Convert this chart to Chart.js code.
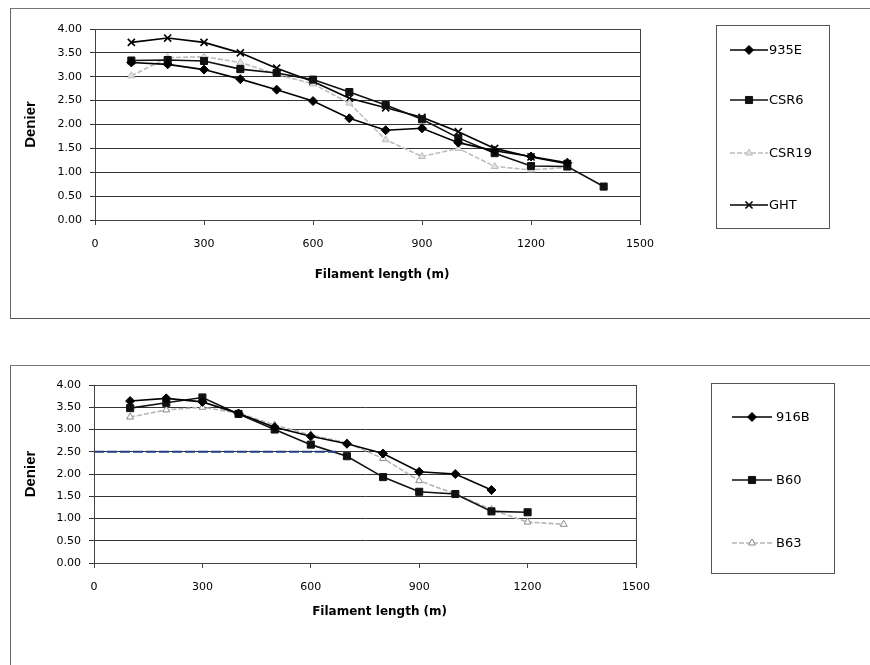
<!DOCTYPE html>
<html>
<head>
<meta charset="utf-8">
<script src="https://cdn.jsdelivr.net/npm/chart.js@4.4.1/dist/chart.umd.min.js"></script>
<style>
  html, body { margin: 0; padding: 0; background: #fff; width: 870px; height: 665px; overflow: hidden; }
  .box { position: absolute; left: 10px; width: 870px; border-left: 1px solid #666; border-top: 1px solid #777; }
  #boxTop { top: 8px; height: 309px; border-bottom: 1px solid #555; }
  #boxBottom { top: 365px; height: 300px; }
  .box canvas { position: absolute; left: 0; top: 0; }
</style>
</head>
<body>
<div class="box" id="boxTop"><canvas id="chartTop" width="859" height="309"></canvas></div>
<div class="box" id="boxBottom"><canvas id="chartBottom" width="859" height="299"></canvas></div>
<script>
// --- datos ---
const lengthsTop = [100, 200, 300, 400, 500, 600, 700, 800, 900, 1000, 1100, 1200, 1300, 1400];
const d935E = [3.30, 3.26, 3.15, 2.95, 2.73, 2.49, 2.13, 1.88, 1.92, 1.62, 1.45, 1.33, 1.20, null];
const dCSR6 = [3.34, 3.35, 3.33, 3.16, 3.08, 2.94, 2.68, 2.41, 2.11, 1.72, 1.40, 1.13, 1.12, 0.70];
const dCSR19 = [3.02, 3.40, 3.42, 3.30, 3.05, 2.85, 2.45, 1.68, 1.33, 1.50, 1.12, 1.05, 1.10, null];
const dGHT = [3.72, 3.81, 3.72, 3.50, 3.18, 2.90, 2.55, 2.35, 2.15, 1.85, 1.50, 1.32, 1.18, null];

const lengthsBottom = [100, 200, 300, 400, 500, 600, 700, 800, 900, 1000, 1100, 1200, 1300];
const d916B = [3.64, 3.70, 3.62, 3.36, 3.05, 2.85, 2.68, 2.46, 2.05, 2.00, 1.64, null, null];
const dB60 = [3.48, 3.60, 3.72, 3.35, 3.00, 2.66, 2.40, 1.93, 1.60, 1.55, 1.16, 1.14, null];
const dB63 = [3.28, 3.44, 3.50, 3.37, 3.10, 2.88, 2.70, 2.35, 1.85, 1.55, 1.20, 0.92, 0.87];
// linea azul marcada a mano en 2.50
const markX = [0, 670];
const markY = [2.5, 2.5];

const xMax = 1500, xStep = 300;
const yMax = 4, yStep = 0.5;

const WIDE = "'DejaVu Sans', Verdana, sans-serif";
const ARIAL = "'Liberation Sans', Arial, sans-serif";

function points(xs, ys) {
    return xs.map((x, i) => ({ x, y: ys[i] })).filter(p => p.y !== null && p.y !== undefined);
}

function series(label, xs, ys, color, style, extra) {
    return Object.assign({
        label,
        data: points(xs, ys),
        borderColor: color,
        backgroundColor: color,
        borderWidth: 1.6,
        pointStyle: style,
        pointRadius: 4,
        pointBorderColor: color,
        pointBackgroundColor: color,
        pointBorderWidth: 1,
        tension: 0,
    }, extra || {});
}

// --- plugin: marco del area de trazado ---
const plotFrame = {
    id: "plotFrame",
    afterDraw(chart) {
        const { ctx, chartArea: a } = chart;
        ctx.save();
        ctx.strokeStyle = "#444";
        ctx.lineWidth = 1;
        ctx.strokeRect(Math.round(a.left) + 0.5, Math.round(a.top) + 0.5, Math.round(a.right - a.left), Math.round(a.bottom - a.top));
        ctx.restore();
    },
};

// --- plugin: leyenda estilo Excel dentro de un recuadro ---
const boxLegend = {
    id: "boxLegend",
    afterDraw(chart, args, opts) {
        const { ctx } = chart;
        ctx.save();
        ctx.strokeStyle = "#555";
        ctx.lineWidth = 1;
        ctx.strokeRect(opts.x + 0.5, opts.y + 0.5, opts.w, opts.h);
        const items = chart.data.datasets.filter(ds => !ds.label.startsWith("_"));
        items.forEach((ds, i) => {
            const y = opts.rows[i];
            ctx.strokeStyle = ds.borderColor;
            ctx.lineWidth = ds.borderWidth;
            ctx.setLineDash(ds.borderDash || []);
            ctx.beginPath();
            ctx.moveTo(opts.lineX0, y);
            ctx.lineTo(opts.lineX1, y);
            ctx.stroke();
            ctx.setLineDash([]);
            ctx.fillStyle = ds.pointBackgroundColor;
            ctx.strokeStyle = ds.pointBorderColor;
            ctx.lineWidth = ds.pointBorderWidth;
            Chart.helpers.drawPoint(ctx, {
                pointStyle: ds.pointStyle,
                radius: ds.pointRadius,
                rotation: 0,
                borderWidth: ds.pointBorderWidth,
            }, (opts.lineX0 + opts.lineX1) / 2, y);
            ctx.fillStyle = "#000";
            ctx.font = "13px " + WIDE;
            ctx.textBaseline = "middle";
            ctx.fillText(ds.label, opts.textX, y + 1);
        });
        ctx.restore();
    },
};

function makeChart(canvas, datasets, layout, legendOpts) {
    return new Chart(canvas, {
        type: "line",
        data: { datasets },
        options: {
            responsive: false,
            animation: false,
            layout: { padding: { left: 0, top: layout.top, right: layout.right, bottom: layout.bottom } },
            plugins: {
                legend: { display: false },
                tooltip: { enabled: false },
                boxLegend: legendOpts,
            },
            scales: {
                x: {
                    type: "linear",
                    min: 0,
                    max: xMax,
                    ticks: {
                        stepSize: xStep,
                        padding: 13,
                        maxRotation: 0,
                        color: "#000",
                        font: { family: WIDE, size: 11 },
                        callback: v => String(v),
                    },
                    grid: { drawOnChartArea: false, tickLength: 5, color: "#444" },
                    border: { color: "#444" },
                    title: {
                        display: true,
                        text: "       Filament length (m)",
                        color: "#000",
                        padding: { top: 0, bottom: 4 },
                        font: { family: WIDE, size: 12, weight: "bold" },
                    },
                    afterFit(scale) { scale.height = layout.xAxisH; },
                },
                y: {
                    min: 0,
                    max: yMax,
                    ticks: {
                        stepSize: yStep,
                        padding: 8,
                        color: "#000",
                        font: { family: WIDE, size: 11 },
                        callback: v => v.toFixed(2),
                    },
                    grid: { color: "#333", lineWidth: 1, tickLength: 5 },
                    border: { color: "#444" },
                    title: {
                        display: true,
                        text: "Denier",
                        color: "#000",
                        padding: { top: 11, bottom: 0 },
                        font: { family: ARIAL, size: 15, weight: "bold" },
                    },
                    afterFit(scale) { scale.width = layout.yAxisW; },
                },
            },
        },
        plugins: [plotFrame, boxLegend],
    });
}

const topSets = [
    series("935E", lengthsTop, d935E, "#000", "rectRot", { pointRadius: 4.5 }),
    series("CSR6", lengthsTop, dCSR6, "#111", "rect", { pointRadius: 5 }),
    series("CSR19", lengthsTop, dCSR19, "#bdbdbd", "triangle", { borderDash: [5, 2], pointBackgroundColor: "#e2e2e2" }),
    series("GHT", lengthsTop, dGHT, "#000", "crossRot", { pointRadius: 5, pointBorderWidth: 1.6 }),
];

const bottomSets = [
    series("_mark", markX, markY, "#1f3f86", false, { pointRadius: 0, borderDash: [10, 3], borderWidth: 2 }),
    series("916B", lengthsBottom, d916B, "#000", "rectRot", { pointRadius: 4.5 }),
    series("B60", lengthsBottom, dB60, "#111", "rect", { pointRadius: 5 }),
    series("B63", lengthsBottom, dB63, "#b5b5b5", "triangle", { borderDash: [5, 2], pointBackgroundColor: "#fff", pointBorderColor: "#888" }),
];

makeChart(document.getElementById("chartTop"), topSets,
    { top: 20, right: 230, bottom: 32, xAxisH: 66, yAxisW: 84 },
    { x: 705, y: 16, w: 113, h: 203, rows: [41, 91, 144, 196], lineX0: 719, lineX1: 757, textX: 758 });

makeChart(document.getElementById("chartBottom"), bottomSets,
    { top: 19, right: 234, bottom: 42, xAxisH: 60, yAxisW: 83 },
    { x: 700, y: 17, w: 123, h: 190, rows: [51, 114, 177], lineX0: 721, lineX1: 761, textX: 765 });
</script>
</body>
</html>
